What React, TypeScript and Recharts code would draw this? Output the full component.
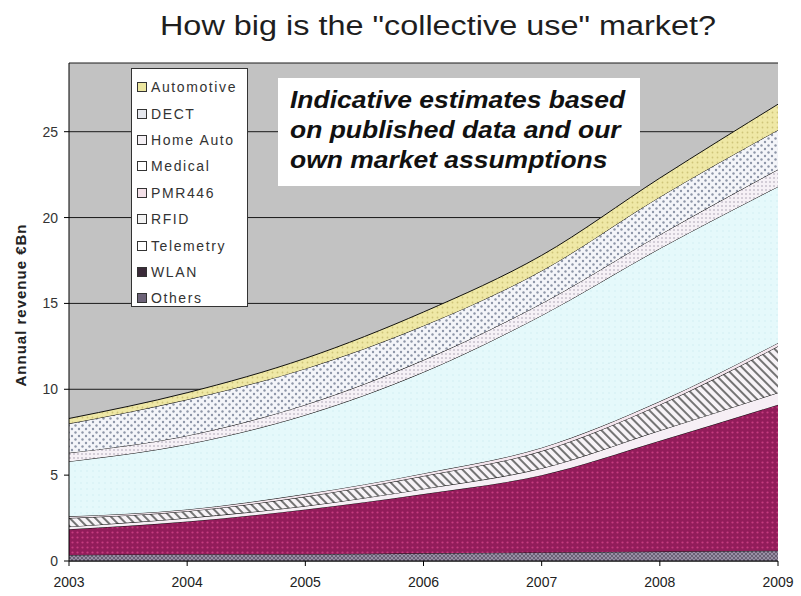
import { AreaChart, Area, XAxis, YAxis, CartesianGrid } from "recharts";

// values in €Bn per segment
const years = [2003, 2004, 2005, 2006, 2007, 2008, 2009];
const others = [0.35, 0.4, 0.4, 0.45, 0.5, 0.55, 0.6];
const wlan = [1.5, 1.9, 2.6, 3.45, 4.5, 6.45, 8.5];
const telemetry = [0.15, 0.2, 0.2, 0.3, 0.4, 0.6, 0.7];
const rfid = [0.5, 0.4, 0.55, 0.75, 1.0, 1.5, 2.7];
const pmr446 = [0.1, 0.1, 0.15, 0.15, 0.2, 0.2, 0.2];
const medical = [3.2, 3.8, 4.6, 5.9, 7.7, 8.9, 9.1];
const homeAuto = [0.5, 0.5, 0.6, 0.7, 0.7, 0.8, 1.0];
const dect = [1.7, 2.1, 2.1, 2.0, 1.9, 2.2, 2.3];
const automotive = [0.3, 0.4, 0.6, 0.8, 0.9, 1.1, 1.5];

const yTicks = [0, 5, 10, 15, 20, 25];

// bottom to top
const series = [
  { key: "others", name: "Others", values: others, fill: "url(#pOthers)", icon: "#6d6378" },
  { key: "wlan", name: "WLAN", values: wlan, fill: "url(#pWlan)", icon: "#3a2a38" },
  { key: "telemetry", name: "Telemetry", values: telemetry, fill: "#f6eff5", icon: "#ffffff" },
  { key: "rfid", name: "RFID", values: rfid, fill: "url(#pRfid)", icon: "#f2f2f2" },
  { key: "pmr446", name: "PMR446", values: pmr446, fill: "#f4e6ee", icon: "#f3e0e8" },
  { key: "medical", name: "Medical", values: medical, fill: "url(#pMedical)", icon: "#ffffff" },
  { key: "homeAuto", name: "Home Auto", values: homeAuto, fill: "url(#pHome)", icon: "#f4f0f4" },
  { key: "dect", name: "DECT", values: dect, fill: "url(#pDect)", icon: "#e6e8ee" },
  { key: "automotive", name: "Automotive", values: automotive, fill: "url(#pAuto)", icon: "#ece6a0" },
];

const data = years.map((year, i) => {
  const row: Record<string, number> = { year };
  series.forEach((s) => {
    row[s.key] = s.values[i];
  });
  return row;
});

const font = "'Liberation Sans', Arial, sans-serif";

export default function App() {
  return (
    <div
      style={{
        position: "absolute",
        left: 0,
        top: 0,
        width: 801,
        height: 596,
        background: "#ffffff",
        fontFamily: font,
      }}
    >
      <div
        style={{
          position: "absolute",
          left: 438,
          top: 11,
          transform: "translateX(-50%) scaleX(1.2)",
          whiteSpace: "nowrap",
          fontSize: 27,
          color: "#1e1e1e",
        }}
      >
        How big is the "collective use" market?
      </div>

      <AreaChart
        width={801}
        height={596}
        data={data}
        margin={{ top: 63, right: 23, bottom: 5, left: 29 }}
      >
        <defs>
          <pattern id="pOthers" width="4" height="4" patternUnits="userSpaceOnUse">
            <rect width="4" height="4" fill="#9a90a6" />
            <path d="M0,0 L4,4 M4,0 L0,4" stroke="#5e5468" strokeWidth="0.8" />
          </pattern>
          <pattern id="pWlan" width="5" height="5" patternUnits="userSpaceOnUse">
            <rect width="5" height="5" fill="#921c5a" />
            <circle cx="2.5" cy="2.5" r="1.1" fill="#c63c80" />
          </pattern>
          <pattern
            id="pRfid"
            width="6"
            height="6"
            patternUnits="userSpaceOnUse"
            patternTransform="rotate(-45)"
          >
            <rect width="6" height="6" fill="#f7f3f7" />
            <line x1="1" y1="0" x2="1" y2="6" stroke="#5e5e5e" strokeWidth="1.7" />
          </pattern>
          <pattern id="pMedical" width="6" height="6" patternUnits="userSpaceOnUse">
            <rect width="6" height="6" fill="#e5f9fb" />
            <circle cx="3" cy="3" r="0.8" fill="#d2eef2" />
          </pattern>
          <pattern id="pHome" width="4" height="4" patternUnits="userSpaceOnUse">
            <rect width="4" height="4" fill="#f6f1f6" />
            <circle cx="2" cy="2" r="0.8" fill="#a8a0b0" />
          </pattern>
          <pattern id="pDect" width="7" height="7" patternUnits="userSpaceOnUse">
            <rect width="7" height="7" fill="#f4f5f9" />
            <circle cx="2" cy="2" r="1.2" fill="#8e96a8" />
            <circle cx="5.5" cy="5.5" r="1.2" fill="#8e96a8" />
          </pattern>
          <pattern id="pAuto" width="5" height="5" patternUnits="userSpaceOnUse">
            <rect width="5" height="5" fill="#efe8a6" />
            <circle cx="2.5" cy="2.5" r="0.9" fill="#cfc57a" />
          </pattern>
        </defs>
        <CartesianGrid vertical={false} stroke="#1a1a1a" fill="#c2c2c2" />
        <XAxis
          dataKey="year"
          type="number"
          domain={[2003, 2009]}
          ticks={years}
          height={30}
          tickSize={5}
          tickMargin={11}
          axisLine={{ stroke: "#000" }}
          tickLine={{ stroke: "#000" }}
          tick={{ fill: "#222", fontSize: 14, fontFamily: font }}
        />
        <YAxis
          type="number"
          domain={[0, 29]}
          ticks={yTicks}
          width={40}
          tickSize={5}
          tickMargin={6}
          axisLine={{ stroke: "#000" }}
          tickLine={{ stroke: "#000" }}
          tick={{ fill: "#333", fontSize: 14, fontFamily: font }}
        />
        {series.map((s) => (
          <Area
            key={s.key}
            dataKey={s.key}
            name={s.name}
            stackId="1"
            type="monotone"
            fill={s.fill}
            fillOpacity={1}
            stroke="#111"
            strokeWidth={1}
            isAnimationActive={false}
          />
        ))}
      </AreaChart>

      <div
        style={{
          position: "absolute",
          left: 20,
          top: 305,
          transform: "translate(-50%, -50%) rotate(-90deg)",
          whiteSpace: "nowrap",
          fontSize: 15,
          letterSpacing: 1,
          fontWeight: "bold",
          color: "#222",
        }}
      >
        Annual revenue €Bn
      </div>

      <div
        style={{
          position: "absolute",
          left: 131,
          top: 68,
          width: 117,
          height: 239,
          background: "#fff",
          border: "1px solid #333",
          boxSizing: "border-box",
          paddingTop: 5,
        }}
      >
        {[...series].reverse().map((s) => (
          <div
            key={s.key}
            style={{
              display: "flex",
              alignItems: "center",
              height: 26.4,
              paddingLeft: 5,
              fontSize: 14,
              letterSpacing: 1.6,
              whiteSpace: "nowrap",
              color: "#333",
            }}
          >
            <span
              style={{
                display: "inline-block",
                width: 8,
                height: 8,
                border: "1px solid #333",
                background: s.icon,
                marginRight: 4,
                flexShrink: 0,
              }}
            />
            {s.name}
          </div>
        ))}
      </div>

      <div
        style={{
          position: "absolute",
          left: 278,
          top: 78,
          width: 362,
          height: 108,
          background: "#fff",
        }}
      >
        <div
          style={{
            position: "absolute",
            left: 12,
            top: 7,
            transform: "scaleX(1.15)",
            transformOrigin: "left top",
            whiteSpace: "nowrap",
            fontSize: 23,
            fontWeight: "bold",
            fontStyle: "italic",
            lineHeight: "30px",
            color: "#111",
          }}
        >
          Indicative estimates based
          <br />
          on published data and our
          <br />
          own market assumptions
        </div>
      </div>
    </div>
  );
}
